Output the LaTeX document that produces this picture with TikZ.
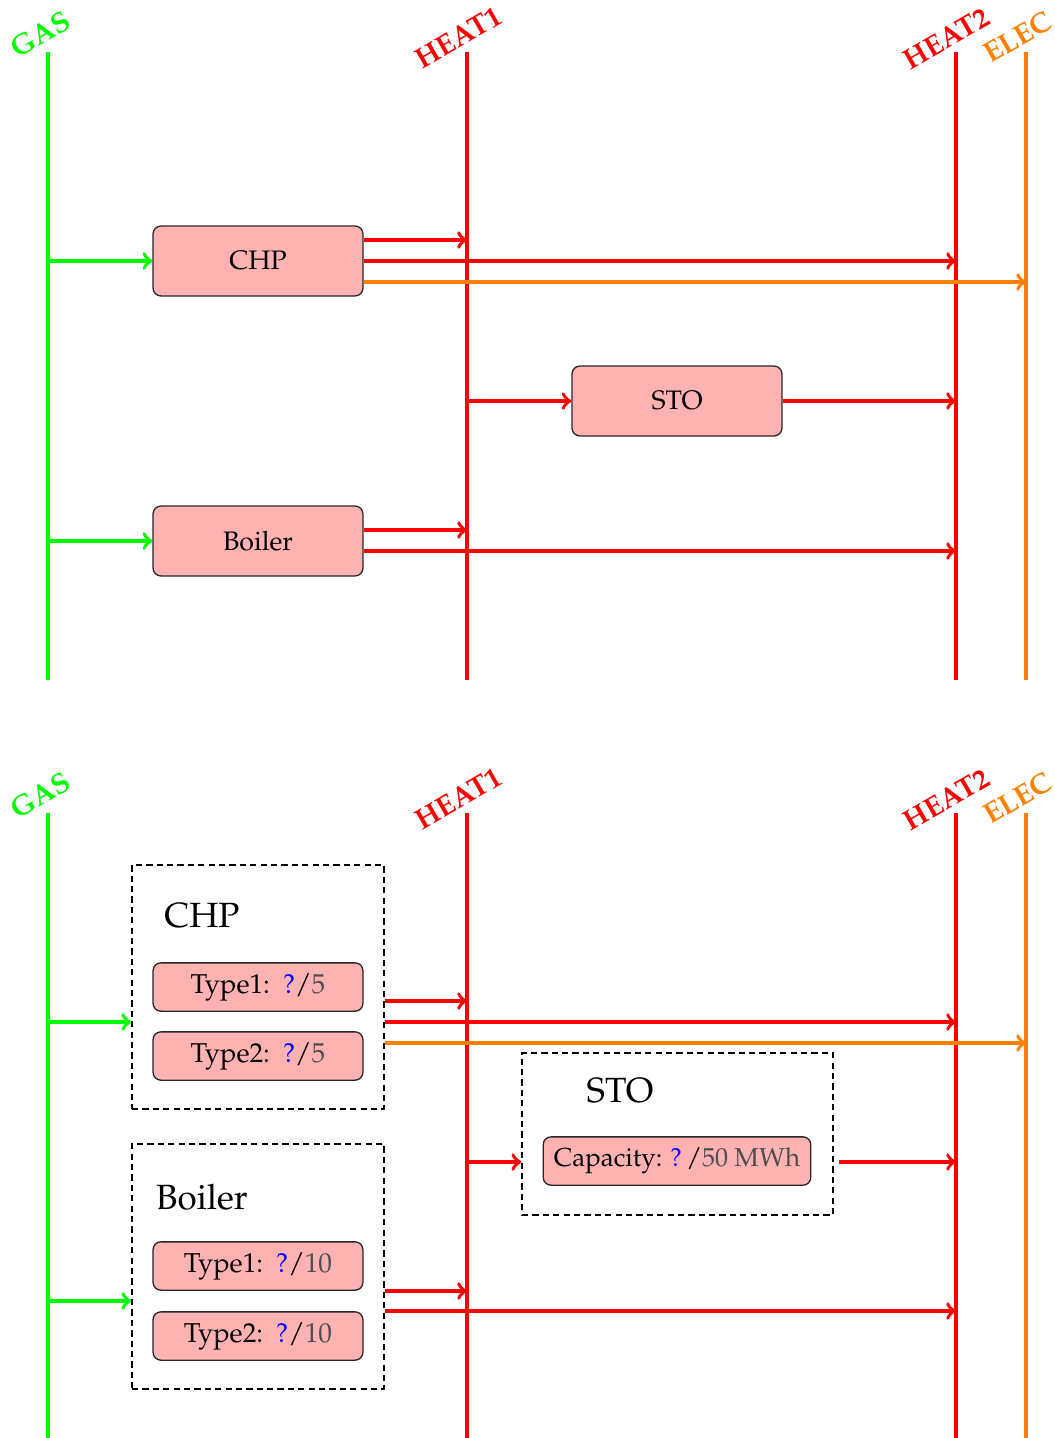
\documentclass[tikz,border=0pt]{standalone}
\usepackage[T1]{fontenc}
\usepackage{mathpazo}
\usetikzlibrary{calc}
\definecolor{gasgreen}{RGB}{0,255,0}
\definecolor{heatred}{RGB}{255,0,0}
\definecolor{elecorange}{RGB}{255,128,0}
\definecolor{unitfill}{RGB}{255,178,178}
\newcommand\qmark{\textcolor{blue}{?}}
\newcommand\bound[1]{\textcolor{black!70}{#1}}
\tikzset{
  bus/.style={line width=1.6pt},
  flow/.style={line width=1.4pt,->},
  buslabel/.style={font=\fontsize{11}{13}\selectfont\bfseries, rotate=30},
  unit/.style={draw=black!85, fill=unitfill, rounded corners=3pt, line width=0.5pt,
    minimum width=80.8pt, minimum height=26.9pt, inner sep=0pt, font=\fontsize{10.3}{12}\selectfont},
  subunit/.style={unit, minimum height=18.6pt, font=\fontsize{10.5}{13}\selectfont},
  group/.style={draw, dashed, dash pattern=on 2.4pt off 1.6pt, line width=0.6pt, inner sep=0pt},
  grouptitle/.style={font=\fontsize{13.5}{16}\selectfont}
}
\begin{document}
\begin{tikzpicture}[x=0.385pt,y=-0.385pt]
\useasboundingbox (0,0) rectangle (1054,1438);

% ---------------- upper network ----------------
\coordinate (gasT)   at (48,52);   \coordinate (gasB)   at (48,680);
\coordinate (heat1T) at (467,52);  \coordinate (heat1B) at (467,680);
\coordinate (heat2T) at (956,52);  \coordinate (heat2B) at (956,680);
\coordinate (elecT)  at (1026,52); \coordinate (elecB)  at (1026,680);

\draw[bus, gasgreen]   (gasT) -- (gasB);
\draw[bus, heatred]    (heat1T) -- (heat1B);
\draw[bus, heatred]    (heat2T) -- (heat2B);
\draw[bus, elecorange] (elecT) -- (elecB);

\node[buslabel, text=gasgreen]   (gaslab)   at (40,34)   {GAS};
\node[buslabel, text=heatred]    (heat1lab) at (458,37)  {HEAT1};
\node[buslabel, text=heatred]    (heat2lab) at (946,38)  {HEAT2};
\node[buslabel, text=elecorange] (eleclab)  at (1017,37) {ELEC};

\node[unit] (chp)    at (258,261) {CHP};
\node[unit] (sto)    at (677,401) {STO};
\node[unit] (boiler) at (258,541) {Boiler};

% CHP
\draw[flow, gasgreen] (gasT |- chp.west) -- (chp.west);
\coordinate (chpA) at ($(chp.east)+(0,-21)$);
\coordinate (chpC) at ($(chp.east)+(0,21)$);
\draw[flow, heatred]    (chpA) -- (heat1T |- chpA);
\draw[flow, heatred]    (chp.east) -- (heat2T |- chp.east);
\draw[flow, elecorange] (chpC) -- (elecT |- chpC);

% storage
\draw[flow, heatred] (heat1T |- sto.west) -- (sto.west);
\draw[flow, heatred] (sto.east) -- (heat2T |- sto.east);

% boiler
\draw[flow, gasgreen] (gasT |- boiler.west) -- (boiler.west);
\coordinate (boiA) at ($(boiler.east)+(0,-11)$);
\coordinate (boiB) at ($(boiler.east)+(0,10)$);
\draw[flow, heatred] (boiA) -- (heat1T |- boiA);
\draw[flow, heatred] (boiB) -- (heat2T |- boiB);

% ---------------- lower network ----------------
\coordinate (gas2T)   at (48,813);   \coordinate (gas2B)   at (48,1438);
\coordinate (heat12T) at (467,813);  \coordinate (heat12B) at (467,1438);
\coordinate (heat22T) at (956,813);  \coordinate (heat22B) at (956,1438);
\coordinate (elec2T)  at (1026,813); \coordinate (elec2B)  at (1026,1438);

\draw[bus, gasgreen]   (gas2T) -- (gas2B);
\draw[bus, heatred]    (heat12T) -- (heat12B);
\draw[bus, heatred]    (heat22T) -- (heat22B);
\draw[bus, elecorange] (elec2T) -- (elec2B);

\node[buslabel, text=gasgreen]   (gaslab2)   at (40,795)   {GAS};
\node[buslabel, text=heatred]    (heat1lab2) at (458,798)  {HEAT1};
\node[buslabel, text=heatred]    (heat2lab2) at (946,799)  {HEAT2};
\node[buslabel, text=elecorange] (eleclab2)  at (1017,798) {ELEC};

% CHP group
\node[group, minimum width=97pt, minimum height=93.9pt] (chpg) at (258,987) {};
\node[grouptitle] (chpt) at (202,916) {CHP};
\node[subunit] (chp1) at (258,987)  {Type1: \,\qmark/\bound{5}};
\node[subunit] (chp2) at (258,1056) {Type2: \,\qmark/\bound{5}};

% storage group
\node[group, minimum width=119.7pt, minimum height=62.4pt] (stog) at (677.5,1134) {};
\node[grouptitle] (stot) at (620,1091) {STO};
\node[subunit, minimum width=103pt, font=\fontsize{10}{12}\selectfont] (stocap) at (677,1161) {Capacity: \qmark\,/\bound{50 MWh}};

% boiler group
\node[group, minimum width=97pt, minimum height=94.3pt] (boig) at (258,1266.5) {};
\node[grouptitle] (boit) at (202,1197) {Boiler};
\node[subunit] (boi1) at (258,1266) {Type1: \,\qmark/\bound{10}};
\node[subunit] (boi2) at (258,1336) {Type2: \,\qmark/\bound{10}};

% lower CHP flows
\coordinate (chpgIn) at ($(chpg.west)+(0,35)$);
\draw[flow, gasgreen] (gas2T |- chpgIn) -- (chpgIn);
\coordinate (chpgA) at ($(chpg.east)+(0,14)$);
\coordinate (chpgB) at ($(chpg.east)+(0,35)$);
\coordinate (chpgC) at ($(chpg.east)+(0,56)$);
\draw[flow, heatred]    (chpgA) -- (heat12T |- chpgA);
\draw[flow, heatred]    (chpgB) -- (heat22T |- chpgB);
\draw[flow, elecorange] (chpgC) -- (elec2T |- chpgC);

% lower storage flows
\coordinate (stogIn)  at ($(stog.west)+(0,28)$);
\coordinate (stogOut) at ($(stog.east)+(5,28)$);
\draw[flow, heatred] (heat12T |- stogIn) -- (stogIn);
\draw[flow, heatred] (stogOut) -- (heat22T |- stogOut);

% lower boiler flows
\coordinate (boigIn) at ($(boig.west)+(0,34.5)$);
\draw[flow, gasgreen] (gas2T |- boigIn) -- (boigIn);
\coordinate (boigA) at ($(boig.east)+(0,24.5)$);
\coordinate (boigB) at ($(boig.east)+(0,44.5)$);
\draw[flow, heatred] (boigA) -- (heat12T |- boigA);
\draw[flow, heatred] (boigB) -- (heat22T |- boigB);
\end{tikzpicture}
\end{document}
